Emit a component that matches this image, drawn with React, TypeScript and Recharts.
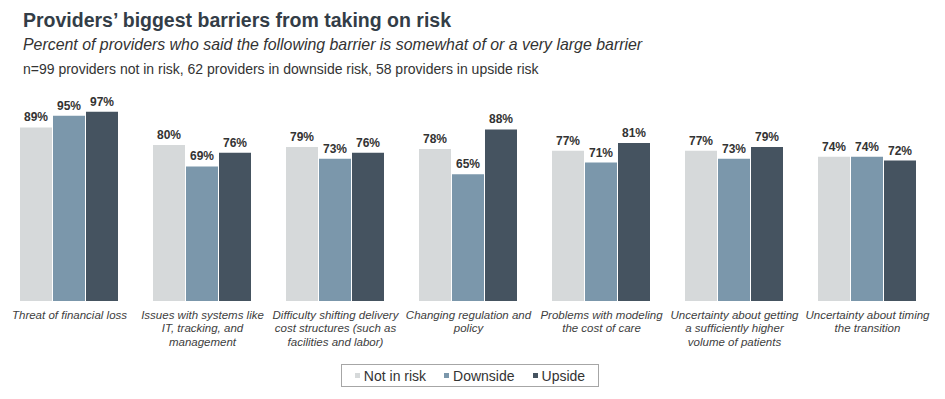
import { BarChart, Bar, XAxis, YAxis, LabelList } from "recharts";

const barriers = [
  "Threat of financial loss",
  "Issues with systems like\nIT, tracking, and\nmanagement",
  "Difficulty shifting delivery\ncost structures (such as\nfacilities and labor)",
  "Changing regulation and\npolicy",
  "Problems with modeling\nthe cost of care",
  "Uncertainty about getting\na sufficiently higher\nvolume of patients",
  "Uncertainty about timing\nthe transition",
];
const notInRisk = [89, 80, 79, 78, 77, 77, 74];
const downside = [95, 69, 73, 65, 71, 73, 74];
const upside = [97, 76, 76, 88, 81, 79, 72];

const series = [
  { key: "notInRisk", name: "Not in risk", color: "#d6d9da" },
  { key: "downside", name: "Downside", color: "#7b97ab" },
  { key: "upside", name: "Upside", color: "#455360" },
];

const data = barriers.map((name, i) => ({
  name,
  notInRisk: notInRisk[i],
  downside: downside[i],
  upside: upside[i],
}));

const FONT = "'Liberation Sans', Arial, sans-serif";

const WrappedTick = (props: any) => {
  const { x, y, payload } = props;
  const lines = String(payload.value).split("\n");
  return (
    <text x={x} y={y} textAnchor="middle" fontFamily={FONT} fontSize={11.5} fontStyle="italic" fill="#404040">
      {lines.map((l, i) => (
        <tspan key={i} x={x} dy={i === 0 ? 10 : 13.4}>
          {l}
        </tspan>
      ))}
    </text>
  );
};

const fmt = (v: any) => `${v}%`;

export default function App() {
  return (
    <div style={{ position: "absolute", left: 0, top: 0, width: 945, height: 399, background: "#fff", fontFamily: FONT, lineHeight: "normal" }}>
      <div style={{ position: "absolute", left: 23, top: 9, fontWeight: "bold", fontSize: 19.5, color: "#333d47", whiteSpace: "nowrap" }}>
        Providers’ biggest barriers from taking on risk
      </div>
      <div style={{ position: "absolute", left: 23, top: 36, fontStyle: "italic", fontSize: 15.9, color: "#333", whiteSpace: "nowrap" }}>
        Percent of providers who said the following barrier is somewhat of or a very large barrier
      </div>
      <div style={{ position: "absolute", left: 23, top: 61, fontSize: 14, color: "#333", whiteSpace: "nowrap" }}>
        n=99 providers not in risk, 62 providers in downside risk, 58 providers in upside risk
      </div>
      <div style={{ position: "absolute", left: 0, top: 0 }}>
        <BarChart
          width={945}
          height={399}
          data={data}
          margin={{ top: 106, right: 11, bottom: 38, left: 3 }}
          barCategoryGap={17}
          barGap={1}
        >
          <XAxis dataKey="name" axisLine={false} tickLine={false} interval={0} height={60} tick={<WrappedTick />} />
          <YAxis hide domain={[0, 100]} />
          {series.map((s) => (
            <Bar key={s.key} dataKey={s.key} name={s.name} fill={s.color} isAnimationActive={false}>
              <LabelList dataKey={s.key} position="top" offset={6} formatter={fmt} fill="#333" fontSize={12} fontWeight="bold" fontFamily={FONT} />
            </Bar>
          ))}
        </BarChart>
      </div>
      <div
        style={{
          position: "absolute",
          left: 341,
          top: 364,
          width: 258,
          height: 23,
          border: "1px solid #a6a6a6",
          boxSizing: "border-box",
          display: "flex",
          alignItems: "center",
          justifyContent: "center",
          gap: 18,
          fontSize: 14,
          color: "#333",
        }}
      >
        {series.map((s) => (
          <span key={s.key} style={{ display: "flex", alignItems: "center" }}>
            <span style={{ width: 5, height: 5, background: s.color, marginRight: 4, display: "inline-block" }} />
            {s.name}
          </span>
        ))}
      </div>
    </div>
  );
}
